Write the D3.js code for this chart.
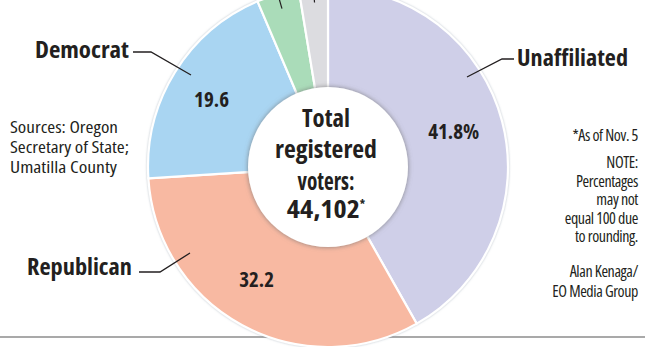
<!DOCTYPE html>
<html>
<head>
<meta charset="utf-8">
<script src="https://cdn.jsdelivr.net/npm/d3@7"></script>
<style>
  html, body { margin: 0; padding: 0; background: #fff; }
  svg { display: block; }
  text { font-family: "Open Sans", Roboto, sans-serif; font-stretch: 75%; fill: #231f20; }
  text.small { font-stretch: 87.5%; }
</style>
</head>
<body>
<svg id="chart" width="645" height="347"></svg>
<script>
// ---- data ----
const categories = ["Unaffiliated", "Republican", "Democrat", "Independent", "Other"];
const values = [41.8, 32.2, 19.6, 3.8, 2.6];
const valueLabels = ["41.8%", "32.2", "19.6", "", ""];
const colors = ["#cfcfe8", "#f8b9a2", "#a9d5f2", "#aadcb9", "#dcdce0"];
const centerLines = ["Total", "registered", "voters:", "44,102"];
const sourceLines = ["Sources: Oregon", "Secretary of State;", "Umatilla County"];
const noteLines = ["*As of Nov. 5", "NOTE:", "Percentages", "may not", "equal 100 due", "to rounding.", "Alan Kenaga/", "EO Media Group"];

// ---- layout ----
const W = 645, H = 347;
const cx = 328, cy = 167;
const outerR = 180, innerR = 78, holeR = 80;

const svg = d3.select("#chart");
const defs = svg.append("defs");
const f1 = defs.append("filter").attr("id", "outerShadow").attr("x", "-10%").attr("y", "-10%").attr("width", "120%").attr("height", "120%");
f1.append("feDropShadow").attr("dx", 0).attr("dy", 0).attr("stdDeviation", 1.2).attr("flood-color", "#8a9aa8").attr("flood-opacity", 0.6);
const f2 = defs.append("filter").attr("id", "holeShadow").attr("x", "-20%").attr("y", "-20%").attr("width", "140%").attr("height", "140%");
f2.append("feDropShadow").attr("dx", 0).attr("dy", 0).attr("stdDeviation", 2.4).attr("flood-color", "#6f6f6f").attr("flood-opacity", 0.8);

// bottom rule
svg.append("line").attr("x1", 0).attr("x2", W).attr("y1", 337).attr("y2", 337)
  .attr("stroke", "#8c8c8c").attr("stroke-width", 1.5);

const g = svg.append("g").attr("transform", `translate(${cx},${cy})`);

const pie = d3.pie().sort(null).value(d => d.v);
const data = categories.map((c, i) => ({ c, v: values[i], label: valueLabels[i], color: colors[i] }));
const arcs = pie(data);
const arc = d3.arc().innerRadius(innerR).outerRadius(outerR);

g.append("g").attr("filter", "url(#outerShadow)")
  .selectAll("path").data(arcs).join("path")
  .attr("d", arc)
  .attr("fill", d => d.data.color)
  .attr("stroke", "#fff").attr("stroke-width", 2.2);

// white center hole
g.append("circle").attr("r", holeR).attr("fill", "#fff").attr("filter", "url(#holeShadow)");
g.append("circle").attr("r", holeR - 1).attr("fill", "#fff");

// value labels (placed at the arc centroid, small optical nudges)
const labelArc = d3.arc().innerRadius(131).outerRadius(131);
const nudge = [[-1, -2], [-9, -3], [-5, 1]];
g.selectAll("text.val").data(arcs.filter(d => d.data.label)).join("text")
  .attr("class", "val")
  .attr("transform", (d, i) => {
    const c = labelArc.centroid(d);
    return `translate(${c[0] + nudge[i][0]},${c[1] + nudge[i][1]})`;
  })
  .attr("text-anchor", "middle").attr("dy", "0.36em")
  .style("font-weight", 700).style("font-size", "21px")
  .text(d => d.data.label);

// small leader stubs for the slices whose labels are cut off at top
const stubIn = d3.arc().innerRadius(165).outerRadius(165);
const stubOut = d3.arc().innerRadius(205).outerRadius(205);
arcs.slice(3).forEach(d => {
  const a = stubIn.centroid(d), b = stubOut.centroid(d);
  g.append("line").attr("x1", a[0]).attr("y1", a[1]).attr("x2", b[0]).attr("y2", b[1])
    .attr("stroke", "#231f20").attr("stroke-width", 1.2);
});

// category labels with leaders (absolute coordinates)
const catLabels = [
  { text: "Unaffiliated", x: 517, y: 66, anchor: "start", len: 111, pts: [[467, 77], [502, 59], [514, 59]] },
  { text: "Republican", x: 132, y: 275, anchor: "end", len: 105, pts: [[190, 253], [160, 272], [139, 272]] },
  { text: "Democrat", x: 129, y: 58, anchor: "end", len: 94, pts: [[191, 75], [151, 52], [133, 52]] }
];
const line = d3.line();
catLabels.forEach(l => {
  svg.append("path").attr("d", line(l.pts)).attr("fill", "none")
    .attr("stroke", "#231f20").attr("stroke-width", 1.3);
  svg.append("text").attr("x", l.x).attr("y", l.y).attr("text-anchor", l.anchor)
    .style("font-weight", 700).style("font-size", "23px")
    .attr("textLength", l.len).attr("lengthAdjust", "spacingAndGlyphs")
    .text(l.text);
});

// center text
const cBase = [127, 158, 190, 218];
const cLens = [48, 102, 57, 73];
centerLines.forEach((t, i) => {
  const tx = svg.append("text").attr("x", 326).attr("y", cBase[i])
    .attr("text-anchor", "middle")
    .style("font-weight", 700).style("font-size", "24.5px");
  if (i === 3) {
    tx.append("tspan").text(t).attr("textLength", cLens[i]).attr("lengthAdjust", "spacingAndGlyphs");
    tx.append("tspan").text("*").attr("dy", -9).style("font-size", "12px");
  } else {
    tx.attr("textLength", cLens[i]).attr("lengthAdjust", "spacingAndGlyphs").text(t);
  }
});

// sources
const sLens = [108, 119, 107];
sourceLines.forEach((t, i) => {
  svg.append("text").attr("class", "small").attr("x", 10).attr("y", 133 + i * 20)
    .style("font-size", "16px")
    .attr("textLength", sLens[i]).attr("lengthAdjust", "spacingAndGlyphs")
    .text(t);
});

// notes (right aligned)
const nBase = [141, 168, 187, 205, 224, 242, 277, 297];
noteLines.forEach((t, i) => {
  svg.append("text").attr("x", 638).attr("y", nBase[i]).attr("text-anchor", "end")
    .style("font-size", "16px").style("letter-spacing", "-0.4px")
    .text(t);
});
</script>
</body>
</html>
